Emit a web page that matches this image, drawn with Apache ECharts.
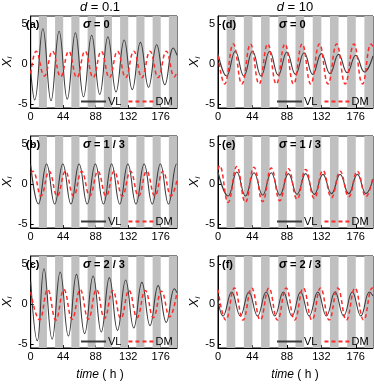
<!DOCTYPE html>
<html>
<head>
<meta charset="utf-8">
<script src="https://cdn.jsdelivr.net/npm/echarts@6/dist/echarts.min.js"></script>
<style>
  html, body { margin: 0; padding: 0; background: #fff; }
  #chart { width: 374px; height: 384px; }
</style>
</head>
<body>
<div id="chart"></div>
<script>
// dark phases of the light/dark cycle (h)
const darkBands = [[11, 22], [33, 44], [55, 66], [77, 88], [99, 110], [121, 132], [143, 154], [165, 176], [187, 198]]
const xTicks = [0, 44, 88, 132, 176]
const yTicks = [-5, 0, 5]

// [time, X_i]: start, peaks/troughs, end
const vlA = [[0, -0.8], [5.5, -4.5], [16.5, 4.4], [27.5, -4.6], [38.5, 4.1], [49.5, -4.4], [60.5, 3.9], [71.5, -4.1], [82.5, 3.6], [93.5, -3.8], [104.5, 3.4], [115.5, -3.5], [126.5, 3.0], [137.5, -3.2], [148.5, 2.7], [159.5, -2.9], [170.5, 2.4], [181.5, -2.6], [193, 2.0], [198, 1.1]]
const dmA = [[0, -1.2], [7.5, 1.6], [18.5, -1.5], [29.5, 1.6], [40.5, -1.6], [51.5, 1.6], [62.5, -1.7], [73.5, 1.6], [84.5, -1.7], [95.5, 1.6], [106.5, -1.7], [117.5, 1.6], [128.5, -1.7], [139.5, 1.6], [150.5, -1.7], [161.5, 1.6], [172.5, -1.7], [183.5, 1.6], [194.5, -1.6], [198, -1.0]]

const vlB = [[0, 2.4], [10.5, -2.5], [21.5, 2.5], [32.5, -2.5], [43.5, 2.5], [54.5, -2.5], [65.5, 2.5], [76.5, -2.5], [87.5, 2.5], [98.5, -2.5], [109.5, 2.5], [120.5, -2.5], [131.5, 2.5], [142.5, -2.5], [153.5, 2.5], [164.5, -2.5], [175.5, 2.5], [186.5, -2.5], [197.5, 2.5], [198, 2.5]]
const dmB = [[0, 1.4], [3, 1.6], [14, -1.5], [25, 1.6], [36, -1.5], [47, 1.6], [58, -1.5], [69, 1.6], [80, -1.5], [91, 1.6], [102, -1.5], [113, 1.6], [124, -1.5], [135, 1.6], [146, -1.5], [157, 1.6], [168, -1.5], [179, 1.6], [190, -1.5], [198, 0.5]]

const vlC = [[0, 2.8], [9, -4.6], [18, 4.4], [29, -4.4], [40, 4.0], [51, -4.0], [62, 3.7], [73, -3.7], [84.5, 3.5], [95.5, -3.5], [106.5, 3.3], [117.5, -3.3], [128.5, 3.0], [139.5, -3.0], [150.5, 2.7], [161.5, -2.7], [172.5, 2.3], [183.5, -2.3], [194.5, 1.9], [198, 1.4]]
const dmC = [[0, 1.5], [12, -2.0], [23, 1.8], [34, -2.0], [45, 1.8], [56, -1.9], [67, 1.8], [78, -1.9], [89, 1.8], [100, -1.8], [111, 1.7], [122, -1.8], [133, 1.7], [144, -1.7], [155, 1.7], [166, -1.7], [177, 1.6], [188, -1.6], [198, 1.5]]

const vlD = [[0, 1.3], [11, -1.5], [22, 1.6], [33, -1.5], [44, 1.6], [55, -1.5], [66, 1.6], [77, -1.4], [88, 1.5], [99, -1.3], [110, 1.4], [121, -1.3], [132, 1.3], [143, -1.2], [154, 1.2], [165, -1.1], [176, 1.1], [187, -1.0], [198, 1.0]]
const dmD = [[0, 1.0], [8.5, -2.5], [19.5, 2.5], [30.5, -2.5], [41.5, 2.5], [52.5, -2.5], [63.5, 2.5], [74.5, -2.5], [85.5, 2.5], [96.5, -2.5], [107.5, 2.5], [118.5, -2.5], [129.5, 2.5], [140.5, -2.5], [151.5, 2.5], [162.5, -2.5], [173.5, 2.5], [184.5, -2.5], [195.5, 2.5], [198, 2.2]]

const vlE = [[0, 1.5], [13, -1.5], [24, 1.5], [35, -1.5], [46, 1.4], [57, -1.4], [68, 1.4], [79, -1.4], [90, 1.3], [101, -1.3], [112, 1.3], [123, -1.3], [134, 1.2], [145, -1.2], [156, 1.2], [167, -1.2], [178, 1.2], [189, -1.2], [198, 0.6]]
const dmE = [[0, 1.8], [2, 2.3], [13, -2.3], [24, 2.2], [35, -2.3], [46, 2.1], [57, -2.2], [68, 2.0], [79, -2.1], [90, 1.9], [101, -1.9], [112, 1.8], [123, -1.8], [134, 1.7], [145, -1.7], [156, 1.6], [167, -1.6], [178, 1.6], [189, -1.6], [198, 0.9]]

const vlF = [[0, 0.5], [6.5, -1.5], [17.5, 1.5], [28.5, -1.5], [39.5, 1.5], [50.5, -1.5], [61.5, 1.5], [72.5, -1.5], [83.5, 1.5], [94.5, -1.5], [105.5, 1.5], [116.5, -1.5], [127.5, 1.5], [138.5, -1.5], [149.5, 1.5], [160.5, -1.5], [171.5, 1.5], [182.5, -1.5], [193.5, 1.5], [198, 1.0]]
const dmF = [[0, 1.8], [10, -2.0], [21, 2.0], [32, -2.0], [43, 2.0], [54, -2.0], [65, 2.0], [76, -2.0], [87, 2.0], [98, -2.0], [109, 2.0], [120, -2.0], [131, 2.0], [142, -2.0], [153, 2.0], [164, -2.0], [175, 2.0], [186, -2.0], [197, 2.0], [198, 2.0]]

const panels = [
  { tag: '(a)', sigma: '0', vl: vlA, dm: dmA, col: 0, row: 0 },
  { tag: '(b)', sigma: '1 / 3', vl: vlB, dm: dmB, col: 0, row: 1 },
  { tag: '(c)', sigma: '2 / 3', vl: vlC, dm: dmC, col: 0, row: 2 },
  { tag: '(d)', sigma: '0', vl: vlD, dm: dmD, col: 1, row: 0 },
  { tag: '(e)', sigma: '1 / 3', vl: vlE, dm: dmE, col: 1, row: 1 },
  { tag: '(f)', sigma: '2 / 3', vl: vlF, dm: dmF, col: 1, row: 2 },
]

const font = '"Liberation Sans", Arial, sans-serif'
const colLeft = [22, 218]
const rowTop = [16, 136, 256]
const gw = 155
const gh = 92

const chart = echarts.init(document.getElementById('chart'))

const grid = []
const xAxis = []
const yAxis = []
const series = []
const legend = []
const graphic = []

panels.forEach((p, i) => {
  const left = colLeft[p.col]
  const top = rowTop[p.row]
  grid.push({ left: left, top: top, width: gw, height: gh, show: true, borderColor: '#000', borderWidth: 1, backgroundColor: 'transparent' })
  xAxis.push({
    type: 'value', gridIndex: i, min: 0, max: 198,
    axisLine: { show: true, onZero: false, lineStyle: { color: '#000', width: 1 } },
    axisTick: { show: true, inside: true, length: 3, customValues: xTicks, lineStyle: { color: '#000' } },
    axisLabel: { customValues: xTicks, color: '#000', fontSize: 11, fontFamily: font, margin: 3 },
    splitLine: { show: false },
  })
  yAxis.push({
    type: 'value', gridIndex: i, min: -5.5, max: 6,
    name: '{x|X}{s|i}', nameLocation: 'middle', nameGap: 12, nameRotate: 90,
    nameTextStyle: { rich: { x: { fontStyle: 'italic', fontSize: 13, fontFamily: font, color: '#000' }, s: { fontStyle: 'italic', fontSize: 8, fontFamily: font, color: '#000', verticalAlign: 'bottom' } } },
    axisLine: { show: true, onZero: false, lineStyle: { color: '#000', width: 1 } },
    axisTick: { show: true, inside: true, length: 3, customValues: yTicks, lineStyle: { color: '#000' } },
    axisLabel: { customValues: yTicks, color: '#000', fontSize: 11, fontFamily: font, margin: 3 },
    splitLine: { show: false },
  })
  series.push({
    name: 'VL', type: 'line', xAxisIndex: i, yAxisIndex: i, data: p.vl,
    smooth: 0.45, symbol: 'none', lineStyle: { color: '#3c3c3c', width: 1.1 }, itemStyle: { color: '#3c3c3c' },
    z: 3,
    markArea: {
      silent: true, itemStyle: { color: '#c0c0c0' },
      data: darkBands.map(b => [{ xAxis: b[0] }, { xAxis: b[1] }]),
    },
  })
  series.push({
    name: 'DM', type: 'line', xAxisIndex: i, yAxisIndex: i, data: p.dm,
    smooth: 0.45, symbol: 'none', lineStyle: { color: '#ff2a2a', width: 1.5, type: [4, 3] }, itemStyle: { color: '#ff2a2a' },
    z: 4,
  })
  legend.push({
    data: ['VL', 'DM'], left: left + 58, top: top + gh - 12, itemWidth: 25, itemHeight: 8, itemGap: 6,
    itemStyle: { opacity: 0 },
    textStyle: { fontSize: 11, fontFamily: font, color: '#000', padding: [0, 0, 0, -3] }, padding: 0,
    backgroundColor: 'transparent', z: 10,
  })
  graphic.push({
    type: 'text', left: left + 4, top: top + 3, z: 100,
    style: { text: p.tag, font: 'bold 11px ' + font, fill: '#000' },
  })
  graphic.push({
    type: 'text', left: left + 61, top: top + 3, z: 100,
    style: {
      text: '{s|σ} = ' + p.sigma, font: 'bold 11px ' + font, fill: '#000',
      rich: { s: { fontStyle: 'italic', fontWeight: 'bold', fontSize: 12, fontFamily: font } },
    },
  })
})

// column titles and bottom axis names
;[['0.1', 100], ['10', 295]].forEach(t => {
  graphic.push({
    type: 'text', x: t[1], y: 7, z: 100,
    style: { text: '{i|d} = ' + t[0], font: '13px ' + font, fill: '#000', align: 'center', verticalAlign: 'middle',
      rich: { i: { fontStyle: 'italic', fontSize: 13, fontFamily: font } } },
  })
  graphic.push({
    type: 'text', x: t[1], y: 375, z: 100,
    style: { text: '{i|time} ( h )', font: '12px ' + font, fill: '#000', align: 'center', verticalAlign: 'middle',
      rich: { i: { fontStyle: 'italic', fontSize: 12, fontFamily: font } } },
  })
})

chart.setOption({
  animation: false,
  grid: grid,
  xAxis: xAxis,
  yAxis: yAxis,
  legend: legend,
  graphic: graphic,
  series: series,
})
</script>
</body>
</html>
